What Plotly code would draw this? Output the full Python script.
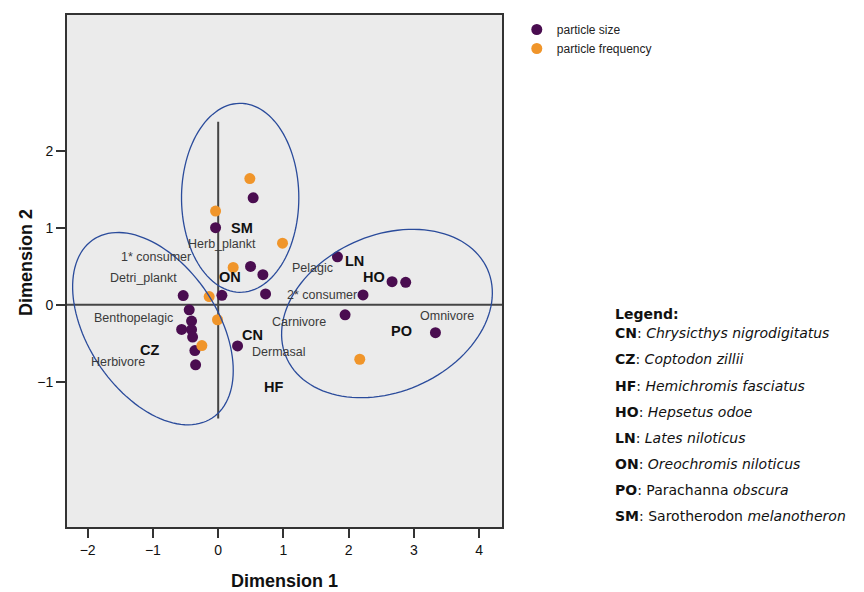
import numpy as np
import plotly.graph_objects as go

# ---- data ----
size_x = [0.536, -0.04, 1.828, 0.496, 0.685, 2.665, 2.874, -0.536, 0.057, 0.726, 2.22,
          -0.444, 1.945, -0.408, -0.56, -0.408, 3.33, -0.392, 0.297, -0.357, -0.346]
size_y = [1.392, 1.004, 0.625, 0.50, 0.392, 0.301, 0.293, 0.12, 0.124, 0.142, 0.129,
          -0.065, -0.13, -0.212, -0.32, -0.324, -0.363, -0.419, -0.535, -0.595, -0.78]

freq_x = [0.485, -0.04, 0.986, 0.23, -0.138, -0.01, -0.25, 2.17]
freq_y = [1.643, 1.22, 0.802, 0.486, 0.107, -0.194, -0.53, -0.708]

cat_labels = ["1* consumer", "Detri_plankt", "Herb_plankt", "Pelagic", "2* consumer",
              "Benthopelagic", "Carnivore", "Omnivore", "Dermasal", "Herbivore"]
cat_x = [-0.959, -1.149, 0.052, 1.45, 1.593, -1.302, 1.231, 3.502, 0.934, -1.531]
cat_y = [0.616, 0.349, 0.797, 0.473, 0.133, -0.168, -0.225, -0.147, -0.617, -0.75]

sp_labels = ["SM", "ON", "LN", "HO", "CN", "PO", "CZ", "HF"]
sp_x = [0.368, 0.179, 2.093, 2.389, 0.521, 2.808, -1.046, 0.842]
sp_y = [1.004, 0.366, 0.564, 0.366, -0.388, -0.341, -0.582, -1.066]

legend_codes = ["CN", "CZ", "HF", "HO", "LN", "ON", "PO", "SM"]
legend_names = ["<i>Chrysicthys nigrodigitatus</i>", "<i>Coptodon zillii</i>",
                "<i>Hemichromis fasciatus</i>", "<i>Hepsetus odoe</i>",
                "<i>Lates niloticus</i>", "<i>Oreochromis niloticus</i>",
                "Parachanna <i>obscura</i>", "Sarotherodon <i>melanotheron</i>"]

# ellipses: center, half-axis vector u, half-axis vector v (data units)
ell_center = [(-1.0, -0.31), (0.337, 1.392), (2.587, -0.113)]
ell_u = [(0.908, -1.162), (0.899, 0.0), (1.539, 0.578)]
ell_v = [(-0.831, -0.463), (0.0, 1.229), (0.490, -0.930)]

x_ticks = [-2, -1, 0, 1, 2, 3, 4]
y_ticks = [-1, 0, 1, 2]
x_range = [-2.317, 4.35]
y_range = [-2.89, 3.77]
vline_span = [-1.48, 2.38]

PURPLE = "#4a0d50"
ORANGE = "#f0952a"
BLUE = "#2a4b9b"
FONT = "Liberation Sans, Arial, sans-serif"
LFONT = "DejaVu Sans, Verdana, sans-serif"

fig = go.Figure()
fig.add_trace(go.Scatter(x=size_x, y=size_y, mode="markers", name="particle size",
                         marker=dict(color=PURPLE, size=11, line=dict(width=0))))
fig.add_trace(go.Scatter(x=freq_x, y=freq_y, mode="markers", name="particle frequency",
                         marker=dict(color=ORANGE, size=11, line=dict(width=0))))

shapes = []
shapes.append(dict(type="line", xref="paper", yref="y", x0=0, x1=1, y0=0, y1=0,
                   line=dict(color="#454545", width=2), layer="below"))
shapes.append(dict(type="line", xref="x", yref="y", x0=0, x1=0,
                   y0=vline_span[0], y1=vline_span[1],
                   line=dict(color="#454545", width=2), layer="below"))
t = np.linspace(0, 2 * np.pi, 120)
for (cx, cy), (ux, uy), (vx, vy) in zip(ell_center, ell_u, ell_v):
    ex = cx + ux * np.cos(t) + vx * np.sin(t)
    ey = cy + uy * np.cos(t) + vy * np.sin(t)
    path = "M " + " L ".join(f"{a:.4f},{b:.4f}" for a, b in zip(ex, ey)) + " Z"
    shapes.append(dict(type="path", xref="x", yref="y", path=path,
                       line=dict(color=BLUE, width=1.3)))

annotations = []
for lab, x, y in zip(cat_labels, cat_x, cat_y):
    annotations.append(dict(x=x, y=y, xref="x", yref="y", text=lab, showarrow=False,
                            xanchor="center", yanchor="middle",
                            font=dict(family=FONT, size=12.5, color="#3a3a3a")))
for lab, x, y in zip(sp_labels, sp_x, sp_y):
    annotations.append(dict(x=x, y=y, xref="x", yref="y", text=f"<b>{lab}</b>",
                            showarrow=False, xanchor="center", yanchor="middle",
                            font=dict(family=FONT, size=14.5, color="#111111")))

# plot-area geometry (pixels) used to place paper-referenced texts
PTOP, PBOT = 12.7, 527.5
PH = PBOT - PTOP


def py2paper(py):
    return (PBOT - py) / PH


annotations.append(dict(x=0.501, y=py2paper(581.5), xref="paper", yref="paper",
                        text="<b>Dimension 1</b>", showarrow=False,
                        xanchor="center", yanchor="middle",
                        font=dict(family=FONT, size=18, color="#111111")))
annotations.append(dict(x=-0.094, y=py2paper(262), xref="paper", yref="paper",
                        text="<b>Dimension 2</b>", showarrow=False, textangle=-90,
                        xanchor="center", yanchor="middle",
                        font=dict(family=FONT, size=18, color="#111111")))

annotations.append(dict(x=1.255, y=py2paper(313.3), xref="paper", yref="paper",
                        text="<b>Legend:</b>", showarrow=False, xanchor="left",
                        yanchor="middle", font=dict(family=LFONT, size=14, color="#111111")))
for i, (code, name) in enumerate(zip(legend_codes, legend_names)):
    annotations.append(dict(x=1.255, y=py2paper(332.7 + i * 26.3), xref="paper",
                            yref="paper", text=f"<b>{code}</b>: {name}", showarrow=False,
                            xanchor="left", yanchor="middle",
                            font=dict(family=LFONT, size=14, color="#111111")))

axis_common = dict(showgrid=False, zeroline=False, showline=True, mirror=True,
                   linecolor="#333333", linewidth=2, ticks="outside", ticklen=9,
                   tickwidth=2, tickcolor="#333333",
                   tickfont=dict(family=FONT, size=14, color="#111111"))

# page body adds an 8px offset; compensate so the plot lands where the reference has it
OFF = 8
W, H = 864 - OFF, 592 - OFF
fig.update_layout(
    width=W, height=H,
    margin=dict(l=67 - OFF, r=864 - 502.3, t=12.7 - OFF, b=592 - 527.5),
    paper_bgcolor="white", plot_bgcolor="#ebebeb",
    xaxis=dict(range=x_range, tickvals=x_ticks, **axis_common),
    yaxis=dict(range=y_range, tickvals=y_ticks, **axis_common),
    shapes=shapes, annotations=annotations,
    showlegend=True,
    legend=dict(x=1.034, y=1.0, xanchor="left", yanchor="top",
                bgcolor="rgba(0,0,0,0)", tracegroupgap=0,
                font=dict(family=FONT, size=12, color="#222222")),
)

fig.write_html("out.html")
